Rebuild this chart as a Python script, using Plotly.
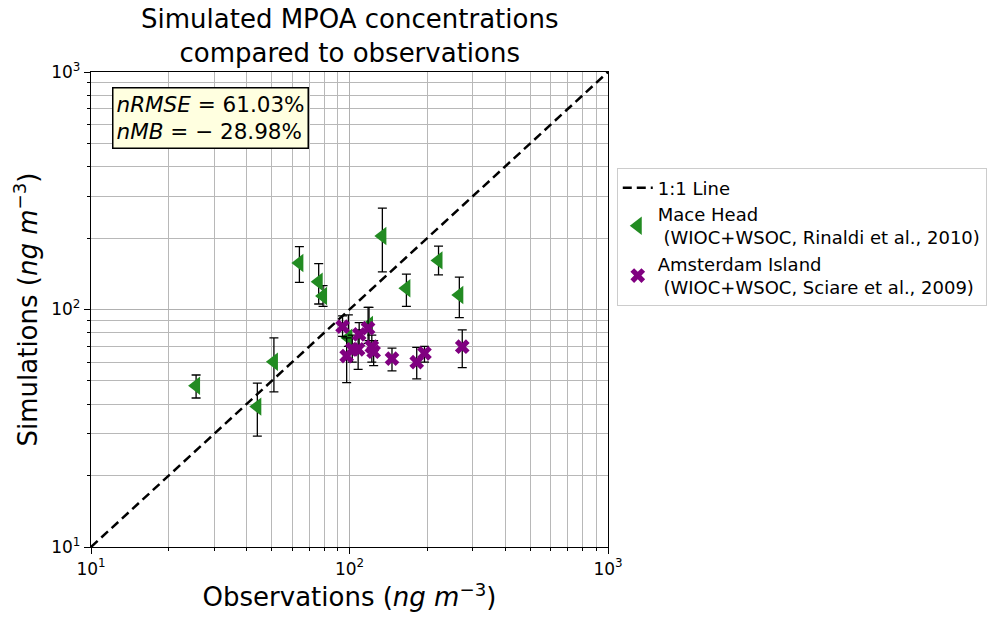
import plotly.graph_objects as go

# Mace Head (green triangles)
mh_obs = [25.5, 44, 51, 64, 76, 79, 134, 221, 166, 266, 119, 99]
mh_sim = [47.7, 39, 60.3, 157, 131, 114, 204, 161, 123, 115, 86, 76]
mh_hi = [53, 49, 76, 184, 156, 126, 267, 185, 141, 137, 102, 95]
mh_lo = [42.4, 29.3, 45, 130, 105.5, 103, 144, 140, 103, 92.4, 74, 70]

# Amsterdam Island (purple X)
ai_obs = [94, 109, 118, 97.5, 102.5, 108, 122, 124, 146, 182, 195, 273]
ai_sim = [84.7, 78.6, 83.4, 63.7, 68, 68, 69.7, 66.4, 62.1, 60, 65.4, 69.7]
ai_hi = [94, 88, 102, 76, 78, 82, 78, 74, 68.8, 69.3, 70, 82]
ai_lo = [77, 70, 72, 49.2, 60, 56, 60, 58, 55.2, 51, 60, 56.9]

one_to_one = [10, 1000]

tickvals = [10, 100, 1000]
ticktext = ["10<sup>1</sup>", "10<sup>2</sup>", "10<sup>3</sup>"]
minorvals = [m * d for d in (10, 100) for m in range(2, 10)]

FONT = "DejaVu Sans"

fig = go.Figure()
fig.add_trace(go.Scatter(x=one_to_one, y=one_to_one, mode="lines",
                         line=dict(color="black", width=2.5, dash="9px,5px"),
                         name="1:1 Line"))
fig.add_trace(go.Scatter(
    x=mh_obs, y=mh_sim, mode="markers",
    marker=dict(symbol="triangle-left", size=16, color="#228B22"),
    error_y=dict(type="data", symmetric=False,
                 array=[h - s for h, s in zip(mh_hi, mh_sim)],
                 arrayminus=[s - l for s, l in zip(mh_sim, mh_lo)],
                 color="black", thickness=1.3, width=4.5),
    name="Mace Head<br> (WIOC+WSOC, Rinaldi et al., 2010)"))
fig.add_trace(go.Scatter(
    x=ai_obs, y=ai_sim, mode="markers",
    marker=dict(symbol="x", size=13, color="#800080"),
    error_y=dict(type="data", symmetric=False,
                 array=[h - s for h, s in zip(ai_hi, ai_sim)],
                 arrayminus=[s - l for s, l in zip(ai_sim, ai_lo)],
                 color="black", thickness=1.3, width=4.5),
    name="Amsterdam Island<br> (WIOC+WSOC, Sciare et al., 2009)"))

axcommon = dict(type="log", range=[1, 3], tickmode="array",
                tickvals=tickvals, ticktext=ticktext,
                showgrid=True, gridcolor="#b0b0b0", gridwidth=1,
                showline=True, linecolor="black", linewidth=1.3, mirror=True,
                ticks="outside", ticklen=6, tickcolor="black",
                minor=dict(tickmode="array", tickvals=minorvals,
                           showgrid=True, gridcolor="#b8b8b8", gridwidth=1,
                           ticks="outside", ticklen=3, tickcolor="black"),
                zeroline=False, tickfont=dict(size=17, family=FONT, color="black"))

fig.update_layout(
    width=998, height=619,
    margin=dict(l=91, r=389, t=72, b=72),
    plot_bgcolor="white", paper_bgcolor="white",
    font=dict(family=FONT, color="black"),
    xaxis=dict(axcommon, title=dict(text="Observations (<i>ng m</i><sup>−3</sup>)",
                                    font=dict(size=26, family=FONT), standoff=6)),
    yaxis=dict(axcommon, title=dict(text="Simulations (<i>ng m</i><sup>−3</sup>)",
                                    font=dict(size=26, family=FONT), standoff=6)),
    legend=dict(x=1.015, y=0.797, xanchor="left", yanchor="top",
                bordercolor="#cccccc", borderwidth=1, bgcolor="white",
                font=dict(size=18, family=FONT), tracegroupgap=0),
    showlegend=True,
)

fig.add_annotation(
    xref="paper", yref="paper", x=0.5, y=1 + 36 / 475, xanchor="center", yanchor="middle",
    text="Simulated MPOA concentrations<br>compared to observations",
    showarrow=False, align="center",
    font=dict(size=26, family=FONT, color="black"),
)

fig.add_annotation(
    xref="paper", yref="paper", x=0.04, y=0.968, xanchor="left", yanchor="top",
    text="<i>nRMSE</i> = 61.03%<br><i>nMB</i> = − 28.98%",
    showarrow=False, align="left",
    font=dict(size=21.5, family=FONT, color="black"),
    bgcolor="#FFFFE0", bordercolor="black", borderwidth=1.5, borderpad=3,
)

fig.write_html("out.html")
